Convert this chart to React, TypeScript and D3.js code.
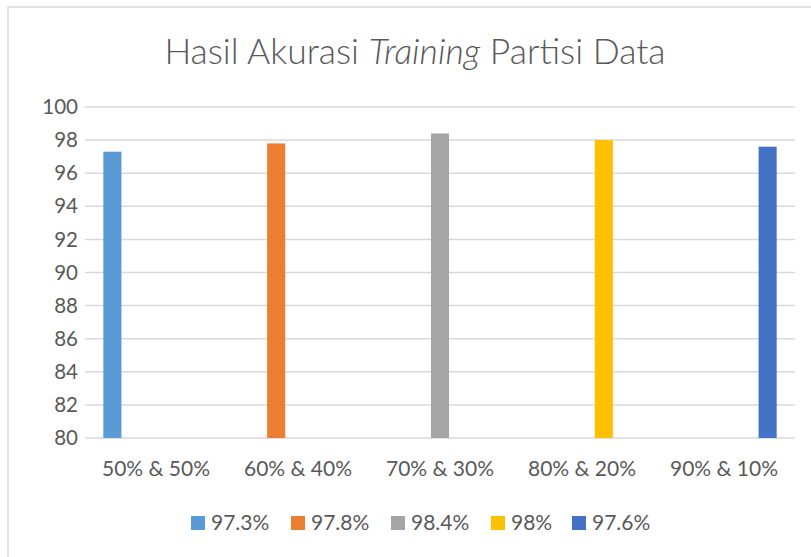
import React, { useEffect, useRef } from 'react'
import * as d3 from 'd3'

const categories = ['50% & 50%', '60% & 40%', '70% & 30%', '80% & 20%', '90% & 10%']
const seriesNames = ['97.3%', '97.8%', '98.4%', '98%', '97.6%']
// each series only has a value in its own category
const seriesValues = [97.3, 97.8, 98.4, 98.0, 97.6]
const seriesColors = ['#5b9bd5', '#ed7d31', '#a5a5a5', '#ffc000', '#4472c4']
const yTicks = [80, 82, 84, 86, 88, 90, 92, 94, 96, 98, 100]

const W = 811
const H = 557
const FONT = 'Lato, "Open Sans", sans-serif'

export default function App() {
  const ref = useRef<SVGSVGElement | null>(null)

  useEffect(() => {
    const svg = d3.select(ref.current)
    svg.selectAll('*').remove()

    const margin = { top: 107, right: 16, bottom: 119, left: 85 }
    const width = W - margin.left - margin.right
    const height = H - margin.top - margin.bottom

    // chart frame (runs off the page on the right / bottom)
    svg.append('rect')
      .attr('x', 8).attr('y', 7)
      .attr('width', W + 20).attr('height', H + 20)
      .attr('fill', '#fff')
      .attr('stroke', '#d9d9d9')
      .attr('stroke-width', 1.5)

    svg.append('text')
      .attr('x', 415).attr('y', 64)
      .attr('text-anchor', 'middle')
      .style('font-family', FONT)
      .style('font-size', '35.5px')
      .style('font-weight', 300)
      .attr('fill', '#595959')
      .call(t => {
        t.append('tspan').text('Hasil Akurasi ')
        t.append('tspan').style('font-style', 'italic').text('Training')
        t.append('tspan').text(' Partisi Data')
      })

    const g = svg.append('g')
      .attr('transform', `translate(${margin.left},${margin.top})`)

    const x0 = d3.scaleBand<string>()
      .domain(categories)
      .range([0, width])
      .paddingInner(0.232)
      .paddingOuter(0.116)

    const x1 = d3.scaleBand<string>()
      .domain(seriesNames)
      .range([0, x0.bandwidth()])
      .paddingInner(0.17)
      .paddingOuter(0.085)

    const y = d3.scaleLinear().domain([80, 100]).range([height, 0])

    g.append('g')
      .selectAll('line')
      .data(yTicks)
      .join('line')
      .attr('x1', 0).attr('x2', width)
      .attr('y1', d => y(d)).attr('y2', d => y(d))
      .attr('stroke', '#d9d9d9')
      .attr('stroke-width', 1.5)

    g.append('g')
      .selectAll('text')
      .data(yTicks)
      .join('text')
      .attr('x', -7)
      .attr('y', d => y(d))
      .attr('dy', '0.35em')
      .attr('text-anchor', 'end')
      .style('font-family', FONT)
      .style('font-size', '20.5px')
      .attr('fill', '#595959')
      .text(d => d)

    const bars = seriesNames.map((name, i) => ({
      name, cat: categories[i], value: seriesValues[i], color: seriesColors[i]
    }))

    g.append('g')
      .selectAll('rect')
      .data(bars)
      .join('rect')
      .attr('x', d => (x0(d.cat) as number) + (x1(d.name) as number))
      .attr('width', x1.bandwidth())
      .attr('y', d => y(d.value))
      .attr('height', d => y(80) - y(d.value))
      .attr('fill', d => d.color)

    g.append('g')
      .selectAll('text')
      .data(categories)
      .join('text')
      .attr('x', d => (x0(d) as number) + x0.bandwidth() / 2)
      .attr('y', height + 38)
      .attr('text-anchor', 'middle')
      .style('font-family', FONT)
      .style('font-size', '21px')
      .attr('fill', '#595959')
      .text(d => d)

    // legend
    const legend = svg.append('g').attr('transform', 'translate(0,523)')
    const itemX = [191, 291, 391, 491, 572]
    const item = legend.selectAll('g')
      .data(bars)
      .join('g')
      .attr('transform', (d, i) => `translate(${itemX[i]},0)`)
    item.append('rect')
      .attr('x', 0).attr('y', -7)
      .attr('width', 14).attr('height', 14)
      .attr('fill', d => d.color)
    item.append('text')
      .attr('x', 20)
      .attr('dy', '0.35em')
      .style('font-family', FONT)
      .style('font-size', '21px')
      .attr('fill', '#595959')
      .text(d => d.name)
  }, [])

  return (
    <svg ref={ref} width={W} height={H}
      style={{ position: 'absolute', left: 0, top: 0, display: 'block' }} />
  )
}
